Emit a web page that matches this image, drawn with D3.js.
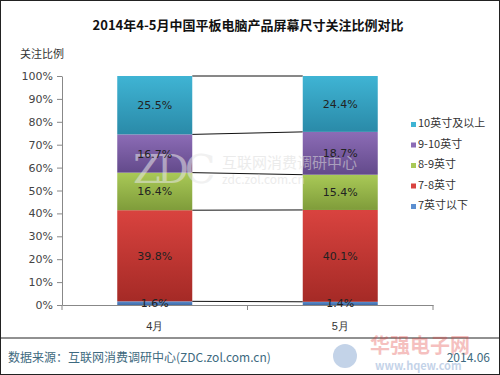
<!DOCTYPE html>
<html>
<head>
<meta charset="utf-8">
<script src="https://cdn.jsdelivr.net/npm/d3@7"></script>
<style>
  body { margin: 0; background: #fff; }
  svg { display: block; font-family: "Noto Sans CJK SC", "DejaVu Sans", sans-serif; }
</style>
</head>
<body>
<svg width="500" height="375"></svg>
<script>
// Данные графика
const months = ["4月", "5月"];
const seriesNames = ["7英寸以下", "7-8英寸", "8-9英寸", "9-10英寸", "10英寸及以上"];
const aprValues = [1.6, 39.8, 16.4, 16.7, 25.5];
const mayValues = [1.4, 40.1, 15.4, 18.7, 24.4];
const yTicks = [0, 10, 20, 30, 40, 50, 60, 70, 80, 90, 100];
const colorsTop = ["#5b8fd0", "#d9433f", "#a9c957", "#8c6cb6", "#3fb4d4"];
const colorsBottom = ["#3f6aa6", "#a52a26", "#7f9c3a", "#634a8b", "#2a8aa8"];

const svg = d3.select("svg");
const width = +svg.attr("width");
const height = +svg.attr("height");

// Рамка всей картинки
svg.append("rect")
    .attr("x", 0.5).attr("y", 0.5)
    .attr("width", width - 1).attr("height", height - 1)
    .attr("fill", "#fff").attr("stroke", "#222");

// Заголовок
svg.append("text")
    .attr("x", 248).attr("y", 30)
    .attr("text-anchor", "middle")
    .attr("font-size", 13).attr("font-weight", "bold")
    .attr("fill", "#111")
    .text("2014年4-5月中国平板电脑产品屏幕尺寸关注比例对比");

svg.append("text")
    .attr("x", 20).attr("y", 58)
    .attr("font-size", 11).attr("fill", "#333")
    .text("关注比例");

// Таблица для d3.stack
const table = months.map((m, i) => {
    const row = {month: m};
    const vals = i === 0 ? aprValues : mayValues;
    seriesNames.forEach((s, j) => row[s] = vals[j]);
    return row;
});
const stacked = d3.stack().keys(seriesNames)(table);

const x = d3.scaleBand().domain(months).range([62, 433]).paddingInner(0).paddingOuter(0);
const y = d3.scaleLinear().domain([0, 100]).range([305, 76]);
const barW = 75;
const barX = (m) => x(m) + x.bandwidth() / 2 - barW / 2;

// Градиенты для сегментов
const defs = svg.append("defs");
seriesNames.forEach((s, j) => {
    const g = defs.append("linearGradient")
        .attr("id", "grad" + j)
        .attr("x1", 0).attr("y1", 0).attr("x2", 0).attr("y2", 1);
    g.append("stop").attr("offset", "0%").attr("stop-color", colorsTop[j]);
    g.append("stop").attr("offset", "100%").attr("stop-color", colorsBottom[j]);
});

// Оси
const yAxis = svg.append("g")
    .attr("transform", "translate(62,0)")
    .call(d3.axisLeft(y).tickValues(yTicks).tickFormat(d => d + "%").tickSize(5).tickSizeOuter(0));
yAxis.select(".domain").attr("stroke", "#888");
yAxis.selectAll(".tick line").attr("stroke", "#888");
yAxis.selectAll(".tick text").attr("font-size", 11).attr("fill", "#444")
    .attr("font-family", "DejaVu Sans, sans-serif").attr("dx", -1);

const xAxis = svg.append("g")
    .attr("transform", "translate(0,305)")
    .call(d3.axisBottom(x).tickSize(0).tickSizeOuter(0).tickPadding(17));
xAxis.select(".domain").attr("stroke", "#888");
xAxis.selectAll(".tick text").attr("font-size", 11).attr("fill", "#333");
// Деления между категориями
const edges = [62, x("5月"), 433];
svg.selectAll(".xedge").data(edges).join("line")
    .attr("x1", d => d).attr("x2", d => d)
    .attr("y1", 305).attr("y2", 310)
    .attr("stroke", "#888");

// Соединительные линии между столбцами
const boundaries = [0, 1, 2, 3, 4].map(j => [stacked[j][0][1] - stacked[j][0][0] === 0 ? 0 : stacked[j][0][j === 0 ? 0 : 0], 0]);
const joinLevels = [];
joinLevels.push([0, 0]);
stacked.forEach(layer => joinLevels.push([layer[0][1], layer[1][1]]));
svg.selectAll(".joiner").data(joinLevels.slice(1)).join("line")
    .attr("x1", barX("4月") + barW).attr("x2", barX("5月"))
    .attr("y1", d => y(d[0])).attr("y2", d => y(d[1]))
    .attr("stroke", "#111").attr("stroke-width", 1);

// Сегменты столбцов
stacked.forEach((layer, j) => {
    svg.selectAll(".seg" + j).data(layer).join("rect")
        .attr("x", d => barX(d.data.month))
        .attr("y", d => y(d[1]))
        .attr("width", barW)
        .attr("height", d => y(d[0]) - y(d[1]))
        .attr("fill", "url(#grad" + j + ")");
});

// Водяной знак ZDC
const wm = svg.append("g").attr("opacity", 0.55);
wm.append("text").attr("x", 133).attr("y", 183)
    .attr("font-size", 40).attr("fill", "#e6e6e6").attr("font-family", "DejaVu Serif, serif")
    .attr("letter-spacing", -4).text("ZDC");
wm.append("text").attr("x", 222).attr("y", 168)
    .attr("font-size", 15).attr("fill", "#dcdcdc").text("互联网消费调研中心");
wm.append("text").attr("x", 222).attr("y", 184)
    .attr("font-size", 12).attr("fill", "#dcdcdc").text("zdc.zol.com.cn");

// Подписи значений
stacked.forEach((layer) => {
    svg.selectAll(null).data(layer).join("text")
        .attr("x", d => barX(d.data.month) + barW / 2)
        .attr("y", d => (y(d[0]) + y(d[1])) / 2 + 4)
        .attr("text-anchor", "middle")
        .attr("font-size", 11).attr("fill", "#222")
        .attr("font-family", "DejaVu Sans, sans-serif")
        .text(d => (d[1] - d[0]).toFixed(1) + "%");
});

// Легенда
const legendY = d3.scalePoint().domain(seriesNames.slice().reverse()).range([127, 209]);
const legend = svg.selectAll(".legend").data(seriesNames).join("g")
    .attr("transform", d => `translate(411,${legendY(d)})`);
legend.append("rect").attr("x", 0).attr("y", -5).attr("width", 5).attr("height", 5)
    .attr("fill", (d, j) => colorsTop[j]);
legend.append("text").attr("x", 7).attr("y", 0)
    .attr("font-size", 11).attr("fill", "#333").text(d => d);

// Нижняя часть
svg.append("line").attr("x1", 0).attr("x2", width).attr("y1", 338).attr("y2", 338)
    .attr("stroke", "#222");

// Логотип 华强电子网 (бледный)
const logo = svg.append("g").attr("opacity", 0.3);
logo.append("circle").attr("cx", 345).attr("cy", 356).attr("r", 12).attr("fill", "#3d6fb5");
logo.append("text").attr("x", 370).attr("y", 353)
    .attr("font-size", 20).attr("font-weight", "bold").attr("fill", "#e0322e").text("华强电子网");
logo.append("text").attr("x", 375).attr("y", 370)
    .attr("font-size", 11).attr("font-weight", "bold").attr("fill", "#3d6fb5").text("www.hqew.com");

svg.append("text").attr("x", 8).attr("y", 362)
    .attr("font-size", 12).attr("fill", "#3e6a80")
    .text("数据来源：互联网消费调研中心(ZDC.zol.com.cn)");
svg.append("text").attr("x", 490).attr("y", 362)
    .attr("text-anchor", "end")
    .attr("font-size", 12).attr("fill", "#3e6a80")
    .text("2014.06");
</script>
</body>
</html>
